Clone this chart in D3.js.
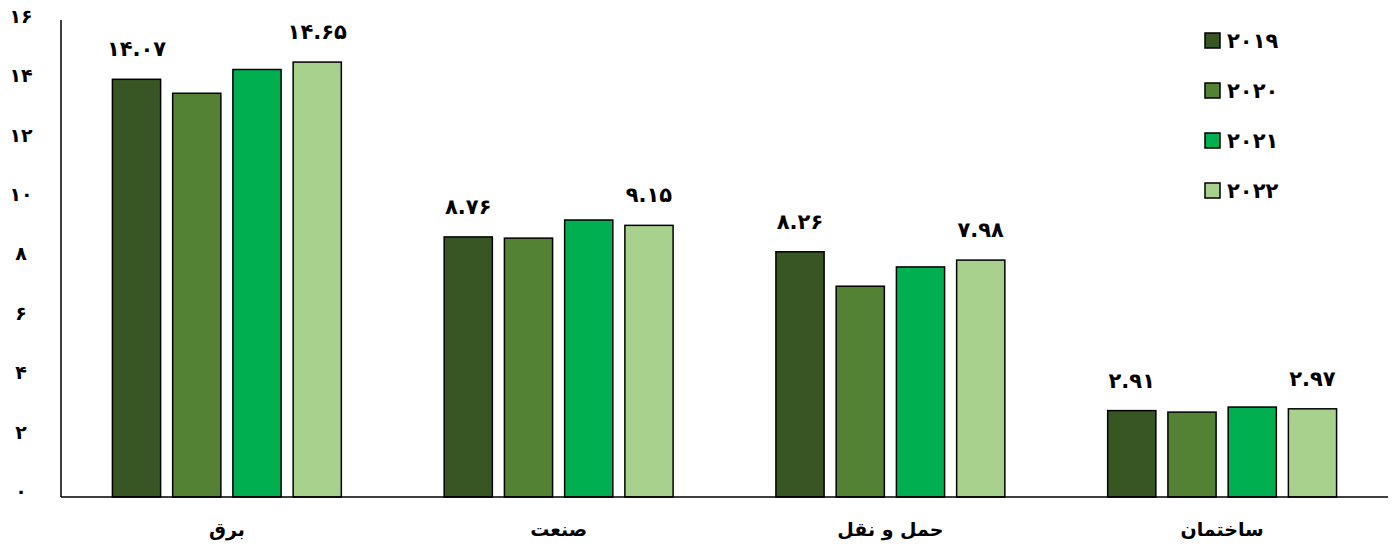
<!DOCTYPE html>
<html>
<head>
<meta charset="utf-8">
<script src="https://cdn.jsdelivr.net/npm/d3@7/dist/d3.min.js"></script>
<style>
    body { margin: 0; background: #fff; }
    text { font-family: "DejaVu Sans", sans-serif; font-weight: bold; fill: #000; }
</style>
</head>
<body>
<script>
(function() {
    // chart data
    var categories = ["برق", "صنعت", "حمل و نقل", "ساختمان"];
    var years = ["2019", "2020", "2021", "2022"];
    var values2019 = [14.07, 8.76, 8.26, 2.91];
    var values2020 = [13.6, 8.72, 7.1, 2.86];
    var values2021 = [14.4, 9.33, 7.75, 3.03];
    var values2022 = [14.65, 9.15, 7.98, 2.97];
    var yTicks = [0, 2, 4, 6, 8, 10, 12, 14, 16];
    var labelledYears = ["2019", "2022"];
    var colors = ["#375623", "#548235", "#00b050", "#a9d18e"];

    var series = [values2019, values2020, values2021, values2022];

    // settings
    var width = 1392, height = 547;
    var margin = { left: 61, right: 4, top: 22, bottom: 50 };

    var svg = d3.select("body").append("svg")
        .attr("width", width)
        .attr("height", height);

    var x0 = d3.scaleBand()
        .domain(categories)
        .range([margin.left, width - margin.right])
        .paddingInner(0.31)
        .paddingOuter(0.155);

    var x1 = d3.scaleBand()
        .domain(years)
        .range([0, x0.bandwidth()])
        .paddingInner(0.2);

    var y = d3.scaleLinear()
        .domain([0, 16])
        .range([height - margin.bottom, margin.top]);

    function fa(s) {
        return String(s).replace(/[0-9]/g, function(c) { return "۰۱۲۳۴۵۶۷۸۹"[+c]; });
    }

    // y tick labels
    svg.append("g").selectAll("text")
        .data(yTicks)
        .enter().append("text")
        .attr("x", 21)
        .attr("y", function(d) { return y(d); })
        .attr("dy", "0.05em")
        .attr("text-anchor", "middle")
        .style("font-size", "19px")
        .text(function(d) { return fa(d); });

    // bars
    var groups = svg.append("g").selectAll("g")
        .data(categories)
        .enter().append("g")
        .attr("transform", function(d) { return "translate(" + x0(d) + ",0)"; });

    groups.selectAll("rect")
        .data(function(d, i) {
            return years.map(function(yr, j) { return { year: yr, value: series[j][i], color: colors[j] }; });
        })
        .enter().append("rect")
        .attr("x", function(d) { return x1(d.year); })
        .attr("y", function(d) { return y(d.value); })
        .attr("width", x1.bandwidth())
        .attr("height", function(d) { return y(0) - y(d.value); })
        .attr("fill", function(d) { return d.color; })
        .attr("stroke", "#000")
        .attr("stroke-width", 1.5);

    groups.selectAll("text.value")
        .data(function(d, i) {
            return years.map(function(yr, j) { return { year: yr, value: series[j][i] }; })
                .filter(function(d) { return labelledYears.indexOf(d.year) >= 0; });
        })
        .enter().append("text")
        .attr("class", "value")
        .attr("x", function(d) { return x1(d.year) + x1.bandwidth() / 2; })
        .attr("y", function(d) { return y(d.value) - 23; })
        .attr("text-anchor", "middle")
        .style("font-size", "21px")
        .text(function(d) { return fa(d.value.toFixed(2)); });

    // axes lines
    svg.append("line")
        .attr("x1", margin.left).attr("x2", margin.left)
        .attr("y1", y(16) - 2).attr("y2", y(0))
        .attr("stroke", "#000").attr("stroke-width", 1.5);
    svg.append("line")
        .attr("x1", margin.left).attr("x2", width - margin.right)
        .attr("y1", y(0)).attr("y2", y(0))
        .attr("stroke", "#000").attr("stroke-width", 1.5);

    // category labels
    svg.append("g").selectAll("text")
        .data(categories)
        .enter().append("text")
        .attr("x", function(d) { return x0(d) + x0.bandwidth() / 2; })
        .attr("y", 536)
        .attr("text-anchor", "middle")
        .style("font-size", "19px")
        .text(function(d) { return d; });

    // legend
    var legend = svg.append("g").selectAll("g")
        .data(years)
        .enter().append("g")
        .attr("transform", function(d, i) { return "translate(1205," + (33 + i * 50) + ")"; });

    legend.append("rect")
        .attr("width", 15).attr("height", 15)
        .attr("fill", function(d, i) { return colors[i]; })
        .attr("stroke", "#000").attr("stroke-width", 1.5);

    legend.append("text")
        .attr("x", 22)
        .attr("y", 15)
        .style("font-size", "21px")
        .text(function(d) { return fa(d); });
})();
</script>
</body>
</html>
